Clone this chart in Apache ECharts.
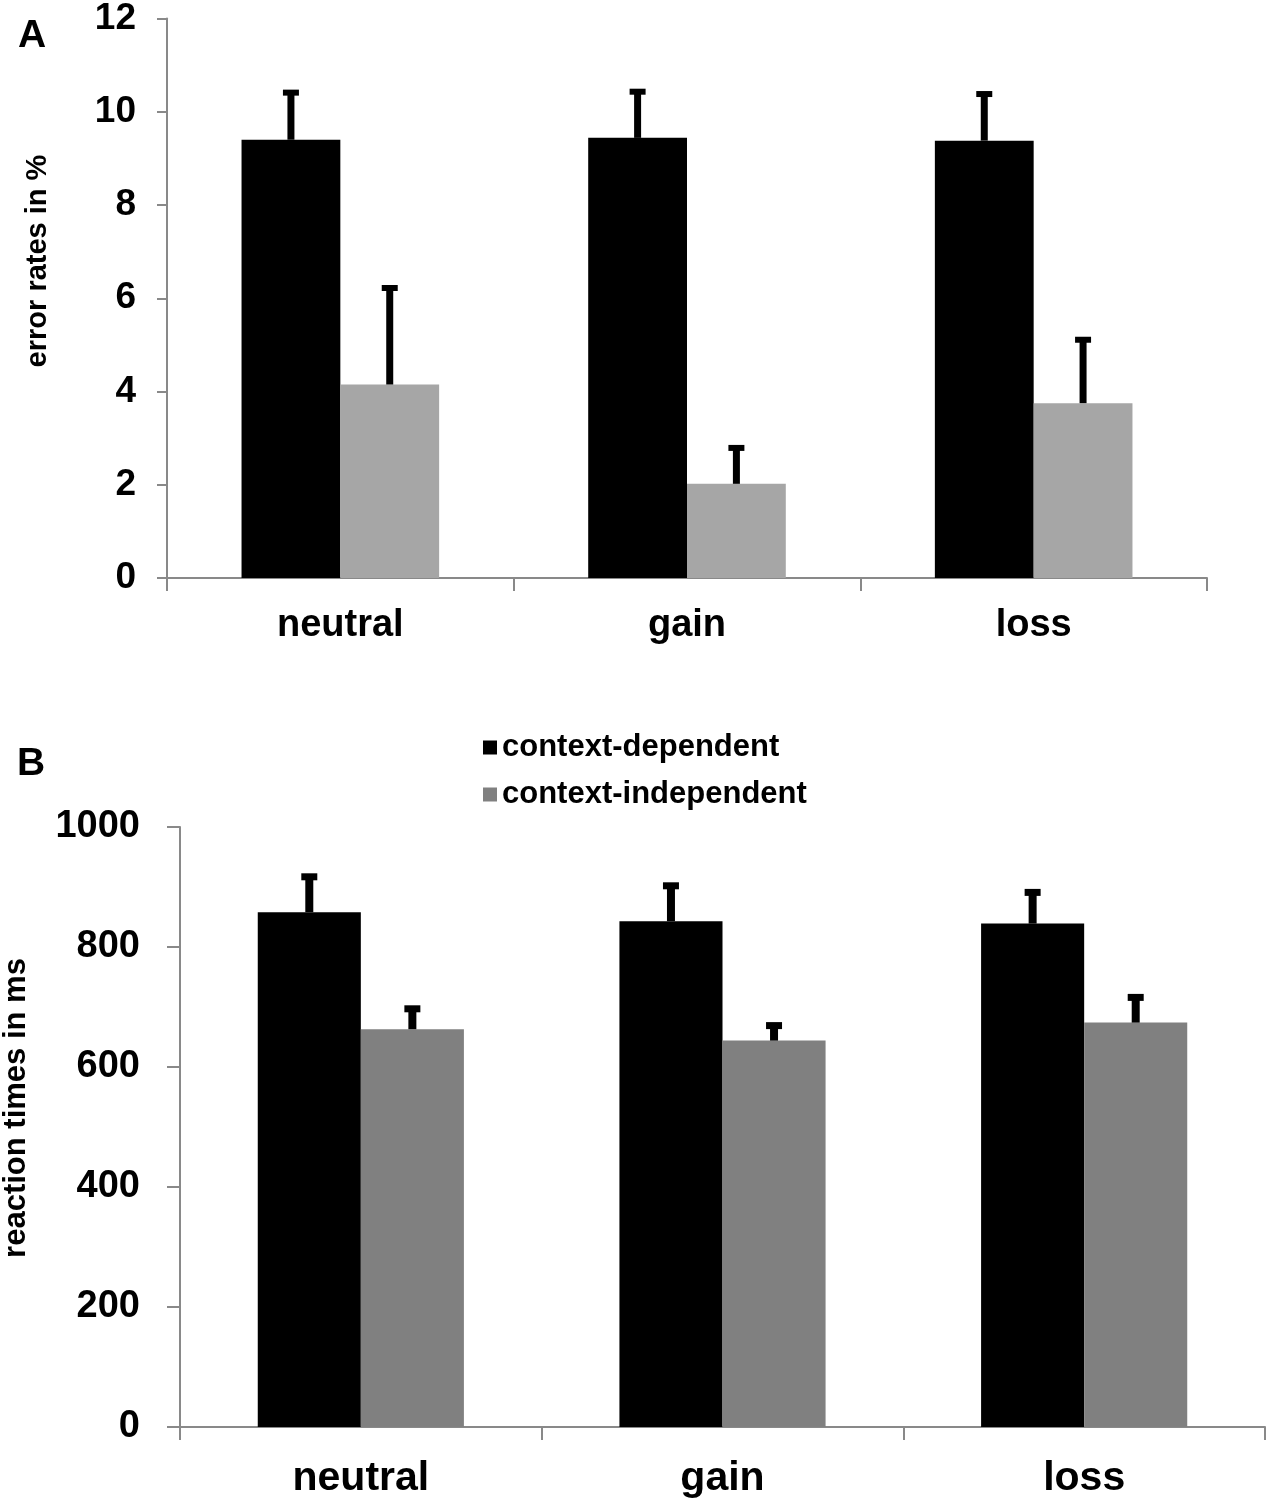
<!DOCTYPE html>
<html>
<head>
<meta charset="utf-8">
<script src="https://cdn.jsdelivr.net/npm/echarts@6/dist/echarts.min.js"></script>
<style>
html,body{margin:0;padding:0;background:#fff;}
#chart{width:1267px;height:1500px;}
</style>
</head>
<body>
<div id="chart"></div>
<script>
// ---- data ----
const categories = ['neutral', 'gain', 'loss'];
const seriesNames = ['context-dependent', 'context-independent'];
// Panel A: error rates in %
const errDepMean = [9.40, 9.44, 9.38];
const errDepSE = [1.01, 0.99, 1.00];
const errIndMean = [4.15, 2.02, 3.75];
const errIndSE = [2.07, 0.77, 1.36];
const errTicks = [0, 2, 4, 6, 8, 10, 12];
// Panel B: reaction times in ms
const rtDepMean = [858, 843, 839];
const rtDepSE = [59, 59, 52];
const rtIndMean = [663, 644, 674];
const rtIndSE = [34, 25, 42];
const rtTicks = [0, 200, 400, 600, 800, 1000];

const FONT = '"Liberation Sans", Arial, sans-serif';
const AXIS_COLOR = '#898989';

function errData(mean, se) {
  return mean.map((m, i) => [i, m, m + se[i]]);
}

function errorSeries(name, xi, data, sign, lw, capW, capH) {
  return {
    type: 'custom',
    name: name,
    xAxisIndex: xi, yAxisIndex: xi,
    z: 5,
    silent: true,
    encode: { x: 0, y: [1, 2] },
    data: data,
    renderItem: function (params, api) {
      const idx = api.value(0);
      const band = api.size([1, 0])[0];
      const off = sign * band * 0.1425;
      const p0 = api.coord([idx, api.value(1)]);
      const p1 = api.coord([idx, api.value(2)]);
      const x = p0[0] + off;
      return {
        type: 'group',
        children: [
          { type: 'line', shape: { x1: x, y1: p0[1], x2: x, y2: p1[1] },
            style: { stroke: '#000', lineWidth: lw } },
          { type: 'rect', shape: { x: x - capW / 2, y: p1[1] - capH / 2, width: capW, height: capH },
            style: { fill: '#000' } }
        ]
      };
    }
  };
}

const chart = echarts.init(document.getElementById('chart'));

const option = {
  animation: false,
  backgroundColor: '#fff',
  grid: [
    { left: 167, right: 60, top: 16, bottom: 922, containLabel: false },
    { left: 180, right: 2, top: 827, bottom: 73, containLabel: false }
  ],
  legend: {
    data: seriesNames,
    orient: 'vertical',
    left: 478,
    top: 727,
    itemWidth: 14,
    itemHeight: 14,
    itemGap: 16,
    icon: 'rect',
    textStyle: { fontFamily: FONT, fontWeight: 'bold', fontSize: 31, color: '#000' },
    selectedMode: false
  },
  xAxis: [
    {
      type: 'category', gridIndex: 0, data: categories,
      axisLine: { lineStyle: { color: AXIS_COLOR, width: 2 } },
      axisTick: { show: true, length: 13, lineStyle: { color: AXIS_COLOR, width: 2 } },
      axisLabel: { fontFamily: FONT, fontWeight: 'bold', fontSize: 38, color: '#000', margin: 29 }
    },
    {
      type: 'category', gridIndex: 1, data: categories,
      axisLine: { lineStyle: { color: AXIS_COLOR, width: 2 } },
      axisTick: { show: true, length: 13, lineStyle: { color: AXIS_COLOR, width: 2 } },
      axisLabel: { fontFamily: FONT, fontWeight: 'bold', fontSize: 41, color: '#000', margin: 31 }
    }
  ],
  yAxis: [
    {
      type: 'value', gridIndex: 0, min: errTicks[0], max: errTicks[errTicks.length - 1], interval: 2,
      axisLine: { show: true, lineStyle: { color: AXIS_COLOR, width: 2 } },
      axisTick: { show: true, length: 10, lineStyle: { color: AXIS_COLOR, width: 2 } },
      splitLine: { show: false },
      axisLabel: { fontFamily: FONT, fontWeight: 'bold', fontSize: 37, color: '#000', margin: 31,
                   formatter: v => String(v) }
    },
    {
      type: 'value', gridIndex: 1, min: rtTicks[0], max: rtTicks[rtTicks.length - 1], interval: 200,
      axisLine: { show: true, lineStyle: { color: AXIS_COLOR, width: 2 } },
      axisTick: { show: true, length: 13, lineStyle: { color: AXIS_COLOR, width: 2 } },
      splitLine: { show: false },
      axisLabel: { fontFamily: FONT, fontWeight: 'bold', fontSize: 38, color: '#000', margin: 40,
                   formatter: v => String(v) }
    }
  ],
  graphic: [
    { type: 'text', left: 18, top: 17,
      style: { text: 'A', font: 'bold 39px ' + FONT, fill: '#000' } },
    { type: 'text', left: 17, top: 745,
      style: { text: 'B', font: 'bold 39px ' + FONT, fill: '#000' } },
    { type: 'text', x: 38, y: 261, rotation: Math.PI / 2,
      style: { text: 'error rates in %', font: 'bold 29px ' + FONT, fill: '#000',
               align: 'center', verticalAlign: 'middle' } },
    { type: 'text', x: 16, y: 1108, rotation: Math.PI / 2,
      style: { text: 'reaction times in ms', font: 'bold 31px ' + FONT, fill: '#000',
               align: 'center', verticalAlign: 'middle' } }
  ],
  series: [
    { type: 'bar', name: 'A ' + seriesNames[0], xAxisIndex: 0, yAxisIndex: 0,
      data: errDepMean, itemStyle: { color: '#000000' }, barGap: '0%', barCategoryGap: '43%' },
    { type: 'bar', name: 'A ' + seriesNames[1], xAxisIndex: 0, yAxisIndex: 0,
      data: errIndMean, itemStyle: { color: '#a6a6a6' }, barGap: '0%', barCategoryGap: '43%' },
    { type: 'bar', name: seriesNames[0], xAxisIndex: 1, yAxisIndex: 1,
      data: rtDepMean, itemStyle: { color: '#000000' }, barGap: '0%', barCategoryGap: '43%' },
    { type: 'bar', name: seriesNames[1], xAxisIndex: 1, yAxisIndex: 1,
      data: rtIndMean, itemStyle: { color: '#808080' }, barGap: '0%', barCategoryGap: '43%' },
    errorSeries('errA0', 0, errData(errDepMean, errDepSE), -1, 7, 16, 6),
    errorSeries('errA1', 0, errData(errIndMean, errIndSE), 1, 7, 16, 6),
    errorSeries('errB0', 1, errData(rtDepMean, rtDepSE), -1, 8, 16, 7),
    errorSeries('errB1', 1, errData(rtIndMean, rtIndSE), 1, 8, 16, 7)
  ]
};

chart.setOption(option);
</script>
</body>
</html>
